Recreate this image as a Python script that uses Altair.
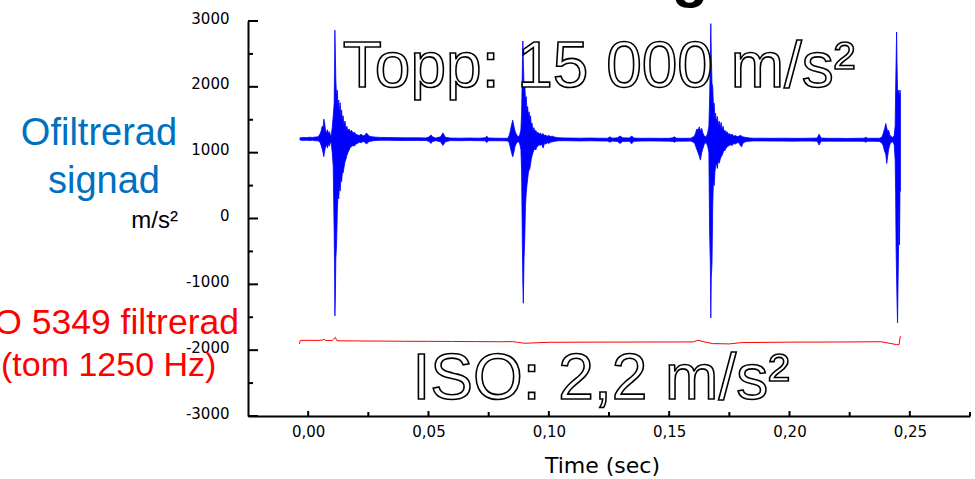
import altair as alt
import pandas as pd

# ---------------- data ----------------
# Unfiltered signal, drawn as its envelope (upper / lower value per instant)
T = [
    # quiet start
    -0.0034, -0.0020, -0.0008, 0.0005, 0.0018, 0.0030, 0.0042,
    # burst 1 precursor
    0.0050, 0.0054, 0.0058, 0.0062, 0.0065, 0.0068, 0.0072, 0.0076, 0.0080, 0.0084, 0.0088, 0.0092,
    # burst 1 main
    0.0096, 0.0100, 0.0104, 0.0106, 0.0108, 0.0110, 0.0111, 0.0113, 0.0115, 0.0118,
    0.0121, 0.0124, 0.0127, 0.0130, 0.0133, 0.0136, 0.0139, 0.0142, 0.0145, 0.0149,
    0.0153, 0.0157, 0.0161, 0.0165, 0.0170,
    # burst 1 tail
    0.0175, 0.0180, 0.0186, 0.0192, 0.0198, 0.0205, 0.0212, 0.0220, 0.0228, 0.0236,
    0.0242, 0.0247, 0.0254, 0.0262, 0.0272, 0.0285, 0.0300,
    # quiet 1
    0.0330, 0.0370, 0.0410, 0.0450, 0.0490, 0.0503, 0.0510, 0.0517, 0.0530, 0.0550,
    0.0560, 0.0570, 0.0590, 0.0630, 0.0670, 0.0710, 0.0735, 0.0742, 0.0750, 0.0780,
    0.0810, 0.0830,
    # burst 2 precursor
    0.0835, 0.0840, 0.0845, 0.0850, 0.0855, 0.0860, 0.0865, 0.0870, 0.0875, 0.0880, 0.0884,
    # burst 2 main
    0.0887, 0.0890, 0.0892, 0.0894, 0.0897, 0.0900, 0.0903, 0.0906, 0.0909, 0.0912,
    0.0915, 0.0918, 0.0921, 0.0924, 0.0927, 0.0930, 0.0934, 0.0938, 0.0942, 0.0946,
    0.0950, 0.0955, 0.0960,
    # burst 2 tail
    0.0965, 0.0970, 0.0976, 0.0982, 0.0988, 0.0994, 0.1000, 0.1007, 0.1015, 0.1025, 0.1040, 0.1060,
    # quiet 2
    0.1090, 0.1130, 0.1170, 0.1210, 0.1245, 0.1254, 0.1263, 0.1285, 0.1296, 0.1307,
    0.1335, 0.1344, 0.1353, 0.1380, 0.1420, 0.1460, 0.1500, 0.1515, 0.1522, 0.1530,
    0.1560, 0.1590,
    # burst 3 precursor
    0.1605, 0.1610, 0.1615, 0.1620, 0.1625, 0.1630, 0.1635, 0.1640, 0.1645, 0.1650, 0.1655, 0.1660, 0.1665,
    # burst 3 main
    0.1668, 0.1671, 0.1673, 0.1675, 0.1678, 0.1681, 0.1684, 0.1687, 0.1690, 0.1693,
    0.1696, 0.1700, 0.1704, 0.1708, 0.1712, 0.1716, 0.1720, 0.1724, 0.1728, 0.1732,
    0.1736, 0.1740, 0.1745, 0.1750,
    # burst 3 tail
    0.1756, 0.1762, 0.1768, 0.1775, 0.1782, 0.1790, 0.1797, 0.1801, 0.1806, 0.1813, 0.1822, 0.1835, 0.1850,
    # quiet 3
    0.1890, 0.1930, 0.1970, 0.2010, 0.2050, 0.2090, 0.2115, 0.2123, 0.2131, 0.2160,
    0.2200, 0.2240, 0.2280, 0.2310, 0.2317, 0.2324, 0.2350, 0.2375,
    # burst 4 precursor
    0.2385, 0.2390, 0.2395, 0.2400, 0.2404, 0.2408, 0.2412, 0.2416, 0.2420, 0.2425, 0.2430, 0.2435, 0.2439,
    # burst 4 main
    0.2441, 0.2443, 0.2445, 0.2447, 0.2449, 0.2451, 0.2453, 0.2455, 0.2457, 0.2459, 0.2461,
]
HI = [
    1225, 1232, 1228, 1235, 1230, 1238, 1240,
    1290, 1330, 1400, 1380, 1510, 1460, 1340, 1300, 1350, 1290, 1320, 1270,
    1260, 1380, 1550, 1650, 1750, 2400, 2860, 2500, 2100, 1850,
    1950, 1700, 1800, 1600, 1760, 1550, 1650, 1480, 1560, 1420,
    1480, 1360, 1400, 1330, 1360,
    1320, 1340, 1300, 1310, 1280, 1270, 1260, 1280, 1255, 1265,
    1300, 1280, 1250, 1245, 1238, 1235, 1232,
    1230, 1228, 1225, 1226, 1224, 1240, 1270, 1240, 1222, 1240,
    1300, 1235, 1222, 1220, 1222, 1220, 1225, 1250, 1222, 1220,
    1218, 1220,
    1260, 1330, 1420, 1494, 1400, 1320, 1280, 1250, 1240, 1280, 1350,
    1600, 2300, 2697, 2400, 2000, 2050, 1800, 1850, 1650, 1700,
    1560, 1620, 1500, 1560, 1420, 1450, 1340, 1380, 1320, 1340,
    1300, 1310, 1280,
    1300, 1270, 1290, 1260, 1265, 1250, 1262, 1245, 1250, 1235, 1228, 1224,
    1222, 1220, 1222, 1220, 1220, 1240, 1220, 1225, 1252, 1225,
    1222, 1255, 1222, 1218, 1220, 1218, 1218, 1225, 1240, 1220,
    1218, 1220,
    1250, 1300, 1360, 1340, 1392, 1330, 1370, 1300, 1260, 1240, 1250, 1300, 1400,
    1800, 2400, 2960, 2500, 2050, 2000, 1700, 1750, 1500, 1600,
    1460, 1550, 1420, 1480, 1380, 1460, 1350, 1400, 1320, 1340,
    1300, 1320, 1280, 1290,
    1270, 1280, 1250, 1260, 1245, 1250, 1265, 1250, 1240, 1235, 1230, 1222, 1220,
    1220, 1218, 1220, 1218, 1218, 1220, 1222, 1281, 1222, 1218,
    1218, 1216, 1218, 1220, 1235, 1220, 1218, 1220,
    1240, 1300, 1360, 1443, 1380, 1320, 1340, 1280, 1250, 1240, 1230, 1260, 1400,
    1950, 2400, 2833, 2300, 1950, 1900, 1950, 1900, 1850, 1950, 1900,
]
LO = [
    1192, 1186, 1190, 1184, 1188, 1182, 1180,
    1150, 1110, 1060, 1000, 940, 1010, 1090, 1120, 1070, 1130, 1100, 1150,
    1150, 1000, 800, 300, -200, -900, -1480, -1200, -600, -400,
    100, 380, 300, 500, 420, 600, 560, 700, 690, 780,
    860, 900, 960, 1000, 1040,
    1080, 1090, 1110, 1100, 1130, 1140, 1160, 1150, 1170, 1160,
    1130, 1150, 1170, 1175, 1182, 1185, 1188,
    1188, 1186, 1185, 1186, 1185, 1170, 1140, 1170, 1182, 1165,
    1110, 1165, 1183, 1182, 1184, 1182, 1180, 1155, 1182, 1180,
    1180, 1178,
    1150, 1080, 1000, 937, 1010, 1100, 1140, 1160, 1170, 1120, 1050,
    700, -400, -1000, -1287, -600, -300, 200, 383, 500, 600,
    700, 735, 760, 820, 900, 950, 1000, 1040, 1060, 1040,
    1090, 1100, 1120,
    1110, 1130, 1070, 1140, 1130, 1150, 1140, 1160, 1165, 1175, 1180, 1182,
    1180, 1178, 1180, 1178, 1176, 1160, 1176, 1170, 1140, 1170,
    1172, 1135, 1172, 1176, 1178, 1176, 1175, 1170, 1160, 1175,
    1175, 1176,
    1150, 1100, 1050, 1000, 950, 887, 1000, 1060, 1120, 1150, 1140, 1100, 1000,
    -200, -675, -1510, -900, -675, 200, 600, 500, 700, 800,
    840, 760, 880, 840, 900, 937, 960, 1000, 1040, 1030,
    1070, 1080, 1100, 1110,
    1120, 1110, 1140, 1130, 1150, 1150, 1100, 1090, 1140, 1160, 1170, 1175, 1178,
    1178, 1176, 1176, 1175, 1176, 1176, 1174, 1115, 1174, 1175,
    1174, 1174, 1174, 1172, 1160, 1172, 1174, 1170,
    1140, 1100, 1020, 980, 837, 950, 1050, 1110, 1150, 1160, 1165, 1120, 900,
    400, -480, -900, -1300, -1586, -1000, -480, 300, -400, 400, 420,
]

# ISO 5349 filtered signal
RT = [-0.0036, -0.0033, 0.0000, 0.0040, 0.0062, 0.0066, 0.0072, 0.0100, 0.0113, 0.0118,
      0.0125, 0.0200, 0.0300, 0.0400, 0.0500, 0.0600, 0.0700, 0.0800, 0.0850, 0.0870,
      0.0900, 0.0950, 0.1000, 0.1200, 0.1400, 0.1600, 0.1620, 0.1640, 0.1680, 0.1750,
      0.1800, 0.2000, 0.2200, 0.2380, 0.2445, 0.2455, 0.2460, 0.2463]
RV = [-1905, -1852, -1850, -1852, -1845, -1830, -1855, -1852, -1805, -1850,
      -1858, -1860, -1862, -1865, -1866, -1868, -1870, -1872, -1870, -1880,
      -1895, -1888, -1880, -1878, -1876, -1875, -1848, -1870, -1900, -1905,
      -1885, -1878, -1876, -1872, -1915, -1918, -1795, -1790]

# axis ticks / labels
X_MAJOR = [0.0, 0.05, 0.10, 0.15, 0.20, 0.25]
X_MINOR = [0.025, 0.075, 0.125, 0.175, 0.225, 0.275]
Y_MAJOR = [-3000, -2000, -1000, 0, 1000, 2000, 3000]
Y_MINOR = [-2500, -1500, -500, 500, 1500, 2500]
X_DOMAIN = [-0.025, 0.275]
Y_DOMAIN = [-3000, 3000]

# texts
PEAK_TEXT = "Topp: 15 000 m/s²"
ISO_TEXT = "ISO: 2,2 m/s²"
TITLE_TAIL = "g"
BLUE_LINES = ["Ofiltrerad", "signad"]
UNIT_TEXT = "m/s²"
RED_LINES = ["ISO 5349 filtrerad", "(tom 1250 Hz)"]
X_TITLE = "Time (sec)"

# ---------------- chart ----------------
W, H = 722, 395
xs = alt.Scale(domain=X_DOMAIN, nice=False, zero=False)
ys = alt.Scale(domain=Y_DOMAIN, nice=False, zero=False)

sig = pd.DataFrame({"t": T, "hi": HI, "lo": LO})
iso = pd.DataFrame({"t": RT, "v": RV})

x_axis = alt.Axis(
    values=X_MAJOR, ticks=False, grid=False,
    domainColor="black", domainWidth=2,
    labelExpr="replace(format(datum.value, '.2f'), '.', ',')",
    labelFont="DejaVu Sans", labelFontSize=15, labelColor="black", labelPadding=8,
    title=X_TITLE, titleFont="DejaVu Sans", titleFontSize=22, titleFontWeight="normal",
    titleColor="black", titlePadding=16, titleX=354,
)
y_axis = alt.Axis(
    values=Y_MAJOR, ticks=False, grid=False,
    labelExpr="'' + datum.value",
    domainColor="black", domainWidth=2,
    labelFont="DejaVu Sans", labelFontSize=15, labelColor="black", labelPadding=19,
    labelOffset=-3, title=None,
)


def txt(label, x, y, size, align="center", font="Liberation Sans", weight="normal", **kw):
    return alt.Chart(pd.DataFrame({"label": [label]})).mark_text(
        align=align, baseline="alphabetic", font=font, fontSize=size, fontWeight=weight, **kw
    ).encode(x=alt.value(x), y=alt.value(y), text="label:N")


texts = [
    txt(PEAK_TEXT, 351, 66, 64, fill="white", stroke="black", strokeWidth=1.6),
    txt(ISO_TEXT, 353, 378, 64, fill="white", stroke="black", strokeWidth=1.6),
    txt(TITLE_TAIL, 442, -25, 60, weight="bold", fill="black"),
    txt(BLUE_LINES[0], -149, 124, 38, fill="#0070C0"),
    txt(BLUE_LINES[1], -144, 172, 38, fill="#0070C0"),
    txt(UNIT_TEXT, -70, 207, 24, align="right", fill="black"),
    txt(RED_LINES[0], -9, 313, 35.5, align="right", fill="#FF0000"),
    txt(RED_LINES[1], -247, 355, 34, align="left", fill="#FF0000"),
]

blue = alt.Chart(sig).mark_area(color="#0000FF", stroke="#0000FF", strokeWidth=0.8, opacity=1).encode(
    x=alt.X("t:Q", scale=xs, axis=x_axis),
    y=alt.Y("hi:Q", scale=ys, axis=y_axis),
    y2="lo:Q",
)
red = alt.Chart(iso).mark_line(color="#FF0000", strokeWidth=1).encode(
    x=alt.X("t:Q", scale=xs, axis=x_axis), y=alt.Y("v:Q", scale=ys, axis=y_axis)
)

y_major = alt.Chart(pd.DataFrame({"v": Y_MAJOR})).mark_rule(color="black", strokeWidth=2).encode(
    y=alt.Y("v:Q", scale=ys, axis=y_axis), x=alt.value(0), x2=alt.value(10))
y_minor = alt.Chart(pd.DataFrame({"v": Y_MINOR})).mark_rule(color="black", strokeWidth=2).encode(
    y=alt.Y("v:Q", scale=ys, axis=y_axis), x=alt.value(0), x2=alt.value(5))
x_major = alt.Chart(pd.DataFrame({"v": X_MAJOR})).mark_rule(color="black", strokeWidth=2).encode(
    x=alt.X("v:Q", scale=xs, axis=x_axis), y=alt.value(H), y2=alt.value(H - 5))
x_minor = alt.Chart(pd.DataFrame({"v": X_MINOR})).mark_rule(color="black", strokeWidth=2).encode(
    x=alt.X("v:Q", scale=xs, axis=x_axis), y=alt.value(H), y2=alt.value(H - 4))

chart = alt.layer(
    blue, *texts, red, y_major, y_minor, x_major, x_minor
).properties(
    width=W, height=H,
    padding={"left": 248, "top": 21, "right": 5, "bottom": 63},
    autosize=alt.AutoSizeParams(type="none"),
).configure_view(stroke=None)

chart.save("out.html", embed_options={"renderer": "svg", "actions": False})
